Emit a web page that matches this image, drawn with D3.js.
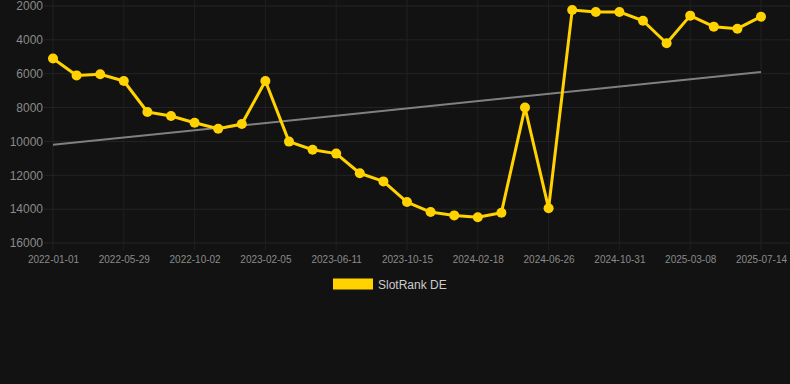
<!DOCTYPE html>
<html><head><meta charset="utf-8">
<script src="https://cdn.jsdelivr.net/npm/d3@7"></script>
<style>html,body{margin:0;padding:0;background:#121212;}svg{display:block;}</style>
</head><body>
<div id="chart"></div>
<script>
const dates = ["2022-01-01","2022-03-06","2022-04-17","2022-05-29","2022-07-10","2022-08-21","2022-10-02","2022-11-13","2022-12-25","2023-02-05","2023-03-19","2023-04-30","2023-06-11","2023-07-23","2023-09-03","2023-10-15","2023-11-26","2024-01-07","2024-02-18","2024-03-31","2024-05-12","2024-06-26","2024-08-07","2024-09-19","2024-10-31","2024-12-12","2025-01-24","2025-03-08","2025-04-19","2025-06-01","2025-07-14"];
const rankDE = [5100,6100,6030,6430,8260,8500,8900,9250,8970,6430,10010,10490,10720,11880,12360,13580,14170,14370,14480,14210,8000,13950,2240,2350,2350,2870,4200,2570,3220,3340,2630];
const trendEnds = [10200, 5900];
const yTicks = [2000,4000,6000,8000,10000,12000,14000,16000];
const seriesName = "SlotRank DE";

const W = 790, H = 384;
const svg = d3.select("#chart").append("svg").attr("width", W).attr("height", H);
svg.append("rect").attr("width", W).attr("height", H).attr("fill", "#121212");

const x = d3.scalePoint().domain(dates).range([53, 761]);
const y = d3.scaleLinear().domain([2000, 16000]).range([6, 243]);

// grid
const grid = svg.append("g");
grid.selectAll("line.h").data(yTicks).join("line")
  .attr("x1", 44).attr("x2", W).attr("y1", d => y(d)).attr("y2", d => y(d))
  .attr("stroke", "#242424").attr("stroke-width", 1);
const labelDates = dates.filter((d, i) => i % 3 === 0);
grid.selectAll("line.v").data(labelDates).join("line")
  .attr("x1", d => x(d)).attr("x2", d => x(d)).attr("y1", 0).attr("y2", 250)
  .attr("stroke", "#202020").attr("stroke-width", 1);

// y axis
const yAxis = d3.axisLeft(y).tickValues(yTicks).tickSize(0).tickPadding(0).tickFormat(d3.format("d"));
const gy = svg.append("g").attr("transform", "translate(43,0)").call(yAxis);
gy.select(".domain").remove();
gy.selectAll("text").attr("fill", "#8a8a8a").style("font", "12px 'Liberation Sans', Arial, sans-serif");

// x axis
const xAxis = d3.axisBottom(x).tickValues(labelDates).tickSize(0).tickPadding(12);
const gx = svg.append("g").attr("transform", "translate(0,244)").call(xAxis);
gx.select(".domain").remove();
gx.selectAll("text").attr("fill", "#8a8a8a").style("font", "10px 'Liberation Sans', Arial, sans-serif");

// trend line
svg.append("line")
  .attr("x1", x(dates[0])).attr("y1", y(trendEnds[0]))
  .attr("x2", x(dates[dates.length-1])).attr("y2", y(trendEnds[1]))
  .attr("stroke", "#808080").attr("stroke-width", 2);

// series
const line = d3.line().x((d, i) => x(dates[i])).y(d => y(d));
svg.append("path").datum(rankDE).attr("d", line)
  .attr("fill", "none").attr("stroke", "#FFD200").attr("stroke-width", 3).attr("stroke-linejoin", "round");
svg.selectAll("circle.pt").data(rankDE).join("circle")
  .attr("cx", (d, i) => x(dates[i])).attr("cy", d => y(d)).attr("r", 5)
  .attr("fill", "#FFD200");

// legend
svg.append("rect").attr("x", 333).attr("y", 278.5).attr("width", 40).attr("height", 11).attr("fill", "#FFD200");
svg.append("text").attr("x", 378).attr("y", 289).text(seriesName)
  .attr("fill", "#cccccc").style("font", "12px 'Liberation Sans', Arial, sans-serif");
</script>
</body></html>
